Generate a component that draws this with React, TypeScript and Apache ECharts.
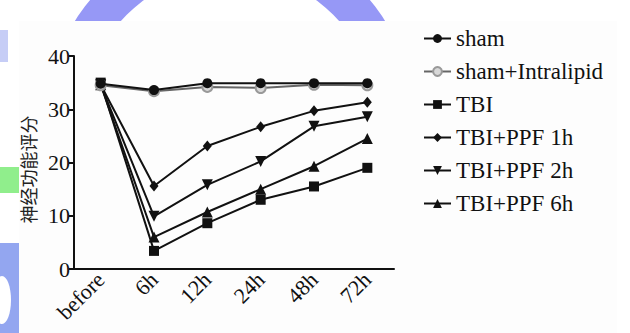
import React, { useEffect, useRef } from "react";
import * as echarts from "echarts";

const categories = ["before", "6h", "12h", "24h", "48h", "72h"];
const yTicks = { min: 0, max: 40, interval: 10 };
const sham = [34.8, 33.6, 34.9, 34.9, 34.9, 34.9];
const shamIntralipid = [34.5, 33.4, 34.2, 34.0, 34.6, 34.5];
const tbi = [35.0, 3.4, 8.6, 13.0, 15.5, 19.0];
const ppf1h = [34.6, 15.6, 23.1, 26.7, 29.7, 31.3];
const ppf2h = [34.6, 9.9, 15.8, 20.2, 26.8, 28.6];
const ppf6h = [34.6, 6.0, 10.7, 15.0, 19.3, 24.5];
const seriesNames = ["sham", "sham+Intralipid", "TBI", "TBI+PPF 1h", "TBI+PPF 2h", "TBI+PPF 6h"];
const yName = "神经功能评分";

const serif = "Liberation Serif";

export default function App() {
  const ref = useRef<HTMLDivElement>(null);
  useEffect(() => {
    if (!ref.current) return;
    const chart = echarts.init(ref.current, undefined, { renderer: "svg" });
    const black = "#111";
    const mk = (name: string, data: number[], symbol: string, size: any, extra: any = {}) => ({
      name,
      type: "line",
      data,
      symbol,
      symbolSize: size,
      showSymbol: true,
      lineStyle: { color: black, width: 2 },
      itemStyle: { color: black },
      z: 3,
      ...extra,
    });
    chart.setOption({
      animation: false,
      backgroundColor: "#ffffff",
      textStyle: { fontFamily: serif },
      graphic: [
        {
          type: "ring",
          shape: { cx: 230, cy: 118, r: 183, r0: 146 },
          style: { fill: "#9698f6" },
          z: -10,
          silent: true,
        },
        {
          type: "rect",
          shape: { x: 0, y: 243, width: 20, height: 90 },
          style: { fill: "#93a6f0" },
          z: -10,
          silent: true,
        },
        {
          type: "ellipse",
          shape: { cx: 2, cy: 300, rx: 9, ry: 24 },
          style: { fill: "#ffffff" },
          z: -9,
          silent: true,
        },
        {
          type: "rect",
          shape: { x: 0, y: 167, width: 20, height: 26 },
          style: { fill: "#90ee8c" },
          z: -10,
          silent: true,
        },
        {
          type: "rect",
          shape: { x: 0, y: 30, width: 8, height: 32 },
          style: { fill: "#c6cdf6" },
          z: -10,
          silent: true,
        },
        {
          type: "rect",
          shape: { x: 19, y: 21, width: 598, height: 320 },
          style: { fill: "#fdfdfd" },
          z: -5,
          silent: true,
        },
      ],
      grid: { left: 74, right: 236, top: 56, bottom: 64, containLabel: false },
      legend: {
        orient: "vertical",
        left: 423,
        top: 27,
        padding: 0,
        itemWidth: 27,
        itemHeight: 11,
        itemGap: 10,
        data: seriesNames,
        textStyle: { fontFamily: serif, fontSize: 23, color: "#111" },
      },
      xAxis: {
        type: "category",
        data: categories,
        boundaryGap: true,
        axisLine: { lineStyle: { color: black, width: 2 } },
        axisTick: { alignWithLabel: true, length: 5, lineStyle: { color: black, width: 2 } },
        axisLabel: { rotate: 45, fontFamily: serif, fontSize: 22, color: "#111", margin: 7 },
        splitLine: { show: false },
      },
      yAxis: {
        type: "value",
        min: yTicks.min,
        max: yTicks.max,
        interval: yTicks.interval,
        name: yName,
        nameLocation: "middle",
        nameRotate: 90,
        nameGap: 36,
        nameTextStyle: {
          fontFamily: "Noto Sans CJK SC",
          fontSize: 18,
          color: "#222",
          padding: [0, 14, 0, 0],
        },
        axisLine: { show: true, lineStyle: { color: black, width: 2 } },
        axisTick: { show: true, length: 5, lineStyle: { color: black, width: 2 } },
        axisLabel: { fontFamily: serif, fontSize: 22, color: "#111", margin: 4 },
        splitLine: { show: false },
      },
      series: [
        mk(seriesNames[2], tbi, "rect", 10),
        mk(seriesNames[3], ppf1h, "diamond", [9, 11]),
        mk(seriesNames[4], ppf2h, "triangle", 11, { symbolRotate: 180 }),
        mk(seriesNames[5], ppf6h, "triangle", 11),
        mk(seriesNames[1], shamIntralipid, "circle", 10, {
          lineStyle: { color: "#666", width: 2 },
          itemStyle: { color: "#d8d8d8", borderColor: "#999", borderWidth: 2 },
        }),
        mk(seriesNames[0], sham, "circle", 10, { z: 4 }),
      ],
    });
    return () => chart.dispose();
  }, []);
  return (
    <div
      ref={ref}
      style={{ position: "fixed", left: 0, top: 0, width: 630, height: 333 }}
    />
  );
}
